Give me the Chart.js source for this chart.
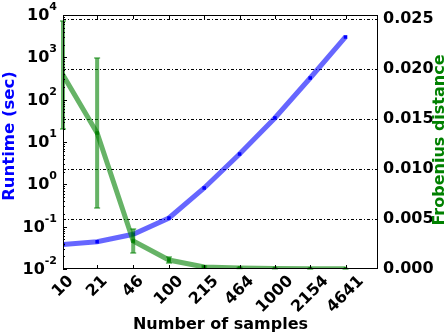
<!DOCTYPE html>
<html>
<head>
<meta charset="utf-8">
<script src="https://cdn.jsdelivr.net/npm/chart.js@4.4.0/dist/chart.umd.min.js"></script>
<style>
  html, body { margin: 0; padding: 0; background: #fff; }
  canvas { display: block; }
</style>
</head>
<body>
<canvas id="c" width="448" height="336"></canvas>
<script>
// samples on the x axis (log spaced)
const samples = [10, 21, 46, 100, 215, 464, 1000, 2154, 4641];
const sampleLabels = ["10", "21", "46", "100", "215", "464", "1000", "2154", "4641"];

// runtime in seconds (left, log axis)
const runtime = [0.038, 0.044, 0.066, 0.16, 0.82, 5.2, 37, 325, 3030];

// Frobenius distance (right axis) and its error bars
const frob = [0.0194, 0.0136, 0.0028, 0.0009, 0.0002, 0.0001, 0.00005, 0.00003, 0.00002];
const frobErr = [0.0054, 0.0075, 0.0012, 0.0003, 0.0001, 0.00005, 0.00003, 0.00002, 0.00001];

const leftExponents = [-2, -1, 0, 1, 2, 3, 4];
const rightTicks = [0, 0.005, 0.010, 0.015, 0.020, 0.025];

const FONT = "DejaVu Sans";
const GREEN_A = "rgba(0,128,0,0.6)";
const BLUE_A = "rgba(0,0,255,0.6)";

const frame = {
  id: "frame",
  beforeDatasetsDraw(chart) {
    const { ctx, chartArea: a, scales } = chart;
    ctx.save();
    ctx.strokeStyle = "#000";
    ctx.lineWidth = 1;
    ctx.setLineDash([3, 2, 1, 2]);
    rightTicks.forEach(v => {
      if (v === 0) return;
      const y = Math.round(scales.y1.getPixelForValue(v)) + 0.5;
      ctx.beginPath();
      ctx.moveTo(a.left, y);
      ctx.lineTo(a.right, y);
      ctx.stroke();
    });
    ctx.restore();
  },
  afterDatasetsDraw(chart) {
    // error bars for the green series
    const { ctx, scales } = chart;
    ctx.save();
    ctx.strokeStyle = GREEN_A;
    samples.forEach((s, i) => {
      const x = scales.x.getPixelForValue(s);
      const yTop = scales.y1.getPixelForValue(frob[i] + frobErr[i]);
      const yBot = scales.y1.getPixelForValue(Math.max(frob[i] - frobErr[i], 0));
      ctx.lineWidth = 4;
      ctx.beginPath();
      ctx.moveTo(x, yTop);
      ctx.lineTo(x, yBot);
      ctx.stroke();
      ctx.lineWidth = 1.5;
      ctx.beginPath();
      ctx.moveTo(x - 3, yTop);
      ctx.lineTo(x + 3, yTop);
      ctx.moveTo(x - 3, yBot);
      ctx.lineTo(x + 3, yBot);
      ctx.stroke();
    });
    ctx.restore();
  },
  afterDraw(chart) {
    const { ctx, chartArea: a, scales } = chart;
    ctx.save();
    // axes box
    ctx.strokeStyle = "#000";
    ctx.lineWidth = 1;
    ctx.strokeRect(a.left + 0.5, a.top + 0.5, a.right - a.left - 1, a.bottom - a.top - 1);

    // inward ticks, top and bottom
    ctx.beginPath();
    samples.forEach(s => {
      const x = Math.round(scales.x.getPixelForValue(s)) + 0.5;
      ctx.moveTo(x, a.bottom);
      ctx.lineTo(x, a.bottom - 4);
      ctx.moveTo(x, a.top);
      ctx.lineTo(x, a.top + 4);
    });
    // left log ticks, major and minor
    leftExponents.forEach(e => {
      const y = Math.round(scales.y.getPixelForValue(Math.pow(10, e))) + 0.5;
      ctx.moveTo(a.left, y);
      ctx.lineTo(a.left + 4, y);
      if (e < 4) {
        for (let m = 2; m <= 9; m++) {
          const ym = Math.round(scales.y.getPixelForValue(m * Math.pow(10, e))) + 0.5;
          ctx.moveTo(a.left, ym);
          ctx.lineTo(a.left + 2, ym);
        }
      }
    });
    ctx.stroke();

    // left tick labels 10^n
    ctx.fillStyle = "#000";
    ctx.textBaseline = "middle";
    leftExponents.forEach(e => {
      const y = scales.y.getPixelForValue(Math.pow(10, e));
      const exp = String(e);
      ctx.font = "bold 11px " + FONT;
      const ew = ctx.measureText(exp).width;
      ctx.textAlign = "right";
      ctx.fillText(exp, a.left - 6, y - 8);
      ctx.font = "bold 16px " + FONT;
      ctx.fillText("10", a.left - 6 - ew, y + 1);
    });

    // x tick labels, rotated 45 and centred on the tick
    ctx.font = "bold 16px " + FONT;
    ctx.textAlign = "center";
    ctx.textBaseline = "middle";
    samples.forEach((s, i) => {
      const x = scales.x.getPixelForValue(s);
      const w = ctx.measureText(sampleLabels[i]).width;
      const h = 16;
      const cy = a.bottom + 4 + (w + h) * Math.SQRT1_2 / 2;
      ctx.save();
      ctx.translate(x, cy);
      ctx.rotate(-Math.PI / 4);
      ctx.fillText(sampleLabels[i], 0, 0);
      ctx.restore();
    });

    // axis titles
    ctx.font = "bold 16px " + FONT;
    ctx.textAlign = "center";
    ctx.textBaseline = "middle";
    ctx.fillStyle = "#0000ff";
    ctx.save();
    ctx.translate(10, 136);
    ctx.rotate(-Math.PI / 2);
    ctx.font = "bold 16.5px " + FONT;
    ctx.fillText("Runtime (sec)", 0, 0);
    ctx.restore();
    ctx.fillStyle = "#008000";
    ctx.save();
    ctx.translate(440, 140);
    ctx.rotate(-Math.PI / 2);
    ctx.fillText("Frobenius distance", 0, 0);
    ctx.restore();
    ctx.fillStyle = "#000";
    ctx.fillText("Number of samples", (a.left + a.right) / 2, 325);
    ctx.restore();
  }
};

new Chart(document.getElementById("c").getContext("2d"), {
  type: "line",
  data: {
    datasets: [
      {
        label: "Frobenius distance",
        data: samples.map((s, i) => ({ x: s, y: frob[i] })),
        yAxisID: "y1",
        borderColor: GREEN_A,
        borderWidth: 5,
        pointStyle: "rect",
        pointRadius: 2.5,
        pointBackgroundColor: "#0a800a",
        pointBorderWidth: 0,
        tension: 0
      },
      {
        label: "Runtime",
        data: samples.map((s, i) => ({ x: s, y: runtime[i] })),
        yAxisID: "y",
        borderColor: BLUE_A,
        borderWidth: 5,
        pointStyle: "rect",
        pointRadius: 2.5,
        pointBackgroundColor: "#0000ff",
        pointBorderWidth: 0,
        tension: 0
      }
    ]
  },
  options: {
    responsive: false,
    animation: false,
    layout: { padding: { top: 15, left: 0, right: 0, bottom: 0 } },
    scales: {
      x: {
        type: "logarithmic",
        min: 10,
        max: 9400,
        afterBuildTicks: s => { s.ticks = samples.map(v => ({ value: v })); },
        afterFit: s => { s.height = 67; },
        ticks: { display: false },
        grid: { display: false },
        border: { display: false }
      },
      y: {
        type: "logarithmic",
        position: "left",
        min: 0.01,
        max: 10000,
        afterFit: s => { s.width = 63; },
        ticks: { display: false },
        grid: { display: false },
        border: { display: false }
      },
      y1: {
        type: "linear",
        position: "right",
        min: 0,
        max: 0.0254,
        afterBuildTicks: s => { s.ticks = rightTicks.map(v => ({ value: v })); },
        afterFit: s => { s.width = 70; },
        ticks: {
          padding: 5,
          color: "#000",
          font: { family: FONT, size: 16, weight: "bold" },
          callback: v => v.toFixed(3)
        },
        grid: { display: false, drawTicks: false },
        border: { display: false }
      }
    },
    plugins: {
      legend: { display: false },
      tooltip: { enabled: false }
    }
  },
  plugins: [frame]
});
</script>
</body>
</html>
